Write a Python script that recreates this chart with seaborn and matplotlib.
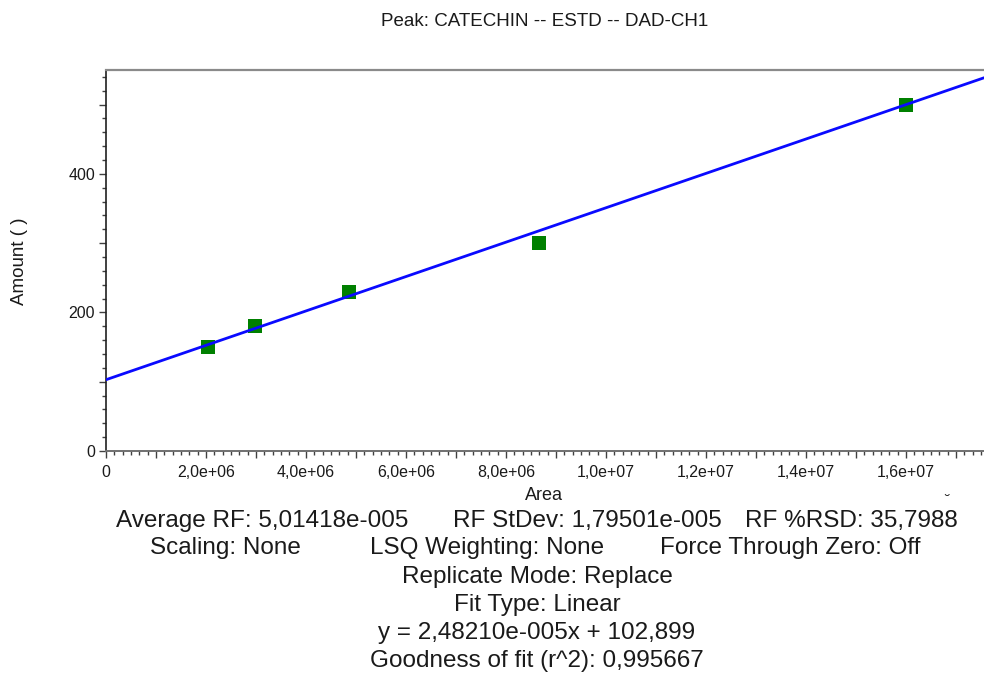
import matplotlib
matplotlib.use("Agg")
import matplotlib.pyplot as plt
from matplotlib.ticker import MultipleLocator, FuncFormatter
import numpy as np
import pandas as pd
import seaborn as sns

# Calibration standards for catechin (peak area vs. amount)
area = [2.03e6, 2.97e6, 4.86e6, 8.65e6, 1.60e7]
amount = [150, 180, 230, 300, 500]

# Linear fit reported by the calibration
slope = 2.48210e-005
intercept = 102.899

title = "Peak: CATECHIN -- ESTD -- DAD-CH1"
stats_line1 = ["Average RF: 5,01418e-005", "RF StDev: 1,79501e-005", "RF %RSD: 35,7988"]
stats_line2 = ["Scaling: None", "LSQ Weighting: None", "Force Through Zero: Off"]
stats_centered = [
    "Replicate Mode: Replace",
    "Fit Type: Linear",
    "y = 2,48210e-005x + 102,899",
    "Goodness of fit (r^2): 0,995667",
]

sns.set_theme(style="ticks")
plt.rcParams["font.family"] = ["Liberation Sans", "DejaVu Sans"]

W, H = 984, 673
fig = plt.figure(figsize=(W / 100, H / 100), dpi=100)
ax = fig.add_axes([106 / W, 1 - 451 / H, 1 - 106 / W, (451 - 70) / H])

xmax = 1.756e7
ymax = 550

pts = pd.DataFrame({"Area": area, "Amount": amount})
sns.scatterplot(data=pts, x="Area", y="Amount", ax=ax, marker="s", s=100,
                color="#008000", linewidth=0, zorder=3)

fit = pd.DataFrame({"Area": [0.0, xmax]})
fit["Amount"] = slope * fit["Area"] + intercept
sns.lineplot(data=fit, x="Area", y="Amount", ax=ax, color="#0a0aff",
             linewidth=2, zorder=4)

ax.set_xlim(0, xmax)
ax.set_ylim(0, ymax)

# Axis styling
ax.spines["right"].set_visible(False)
ax.spines["top"].set_color("#8a8a8a")
ax.spines["top"].set_linewidth(1.6)
ax.spines["bottom"].set_color("#707070")
ax.spines["bottom"].set_linewidth(1.4)
ax.spines["left"].set_color("#202020")
ax.spines["left"].set_linewidth(1.2)

ax.xaxis.set_major_locator(MultipleLocator(1e6))
ax.xaxis.set_minor_locator(MultipleLocator(1e6 / 6))
ax.yaxis.set_major_locator(MultipleLocator(100))
ax.yaxis.set_minor_locator(MultipleLocator(20))


def xfmt(v, pos):
    if abs(v) < 1:
        return "0"
    if int(round(v / 1e6)) % 2 == 0:
        return f"{v:.1e}".replace(".", ",")
    return ""


def yfmt(v, pos):
    if int(round(v)) % 200 == 0:
        return f"{int(round(v))}"
    return ""


ax.xaxis.set_major_formatter(FuncFormatter(xfmt))
ax.yaxis.set_major_formatter(FuncFormatter(yfmt))
ax.tick_params(axis="both", which="major", length=5, width=1.0, color="#404040",
               labelsize=11.5, labelcolor="#1a1a1a", direction="out", pad=3)
ax.tick_params(axis="both", which="minor", length=3, width=1.0, color="#404040",
               direction="out")
ax.tick_params(axis="x", which="major", pad=5)

ax.set_xlabel("")
ax.set_ylabel("")

txt = "#1a1a1a"
fig.text(545 / W, 1 - 22 / H, title, ha="center", va="center", fontsize=13.5, color=txt)
fig.text(544 / W, 1 - 496 / H, "Area", ha="center", va="center", fontsize=13, color=txt)
fig.text(20 / W, 1 - 261 / H, "Amount ( )", ha="center", va="center", fontsize=13.5,
         rotation=90, color=txt)

fs = 17.5
line1_x = [116, 453, 745]
for x, s in zip(line1_x, stats_line1):
    fig.text(x / W, 1 - 521 / H, s, ha="left", va="center", fontsize=fs, color=txt)
# small breve mark sitting over the last digit of the %RSD value
fig.text(947 / W, 1 - 508 / H, "\u02d8", ha="center", va="bottom", fontsize=11, color=txt)

line2_x = [150, 370, 660]
for x, s in zip(line2_x, stats_line2):
    fig.text(x / W, 1 - 548 / H, s, ha="left", va="center", fontsize=fs, color=txt)

for i, s in enumerate(stats_centered):
    fig.text(537 / W, 1 - (577 + 28 * i) / H, s, ha="center", va="center",
             fontsize=fs, color=txt)

fig.savefig("out.png", dpi=100, facecolor="white")
